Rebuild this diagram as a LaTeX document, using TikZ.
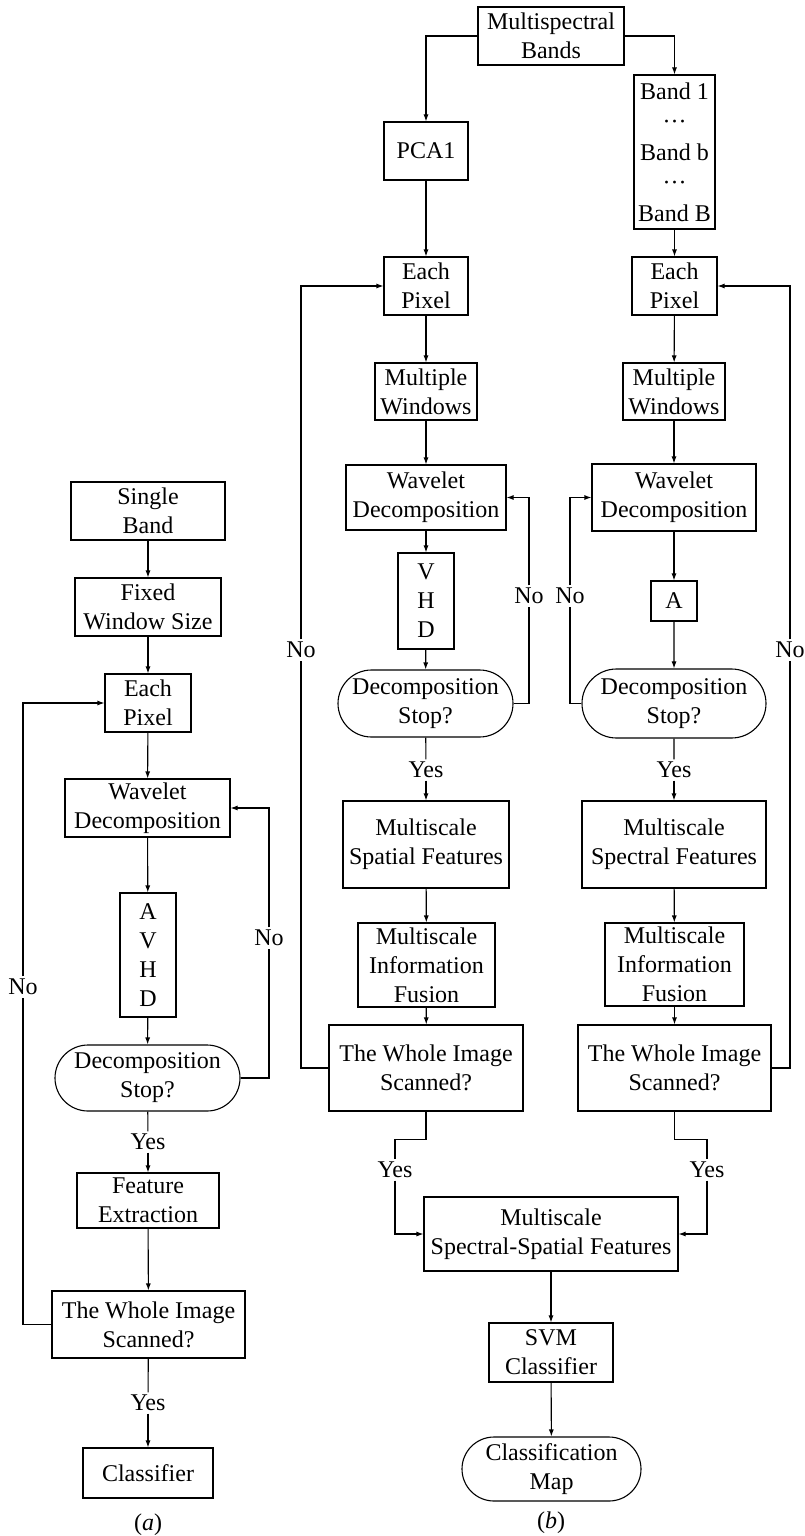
\documentclass[tikz,border=0pt]{standalone}
\usepackage{fontspec}
\setmainfont{Liberation Serif}
\usetikzlibrary{arrows.meta,shapes.misc}

\begin{document}
\begin{tikzpicture}[x=1pt, y=-1pt, >={Latex[length=7pt,width=5pt]}, line width=1.1pt,
  blk/.style={draw, rectangle, align=center, inner sep=0pt, font=\fontsize{24}{29}\selectfont},
  term/.style={blk, rounded rectangle},
  lbl/.style={inner sep=2pt, font=\fontsize{24}{29}\selectfont}]
\useasboundingbox (0,0) rectangle (805,1536);

% (a) single band
\node[blk, minimum width=154pt, minimum height=58pt] (single) at (148,511) {Single\\Band};
\node[blk, minimum width=146pt, minimum height=58pt] (fixed) at (148,607) {Fixed\\Window Size};
\node[blk, minimum width=86pt, minimum height=58pt] (eachA) at (148,703) {Each\\Pixel};
\node[blk, minimum width=165pt, minimum height=58pt] (waveA) at (147.5,808) {Wavelet\\Decomposition};
\node[blk, minimum width=56pt, minimum height=124pt] (avhd) at (148,955) {A\\V\\H\\D};
\node[term, minimum width=185pt, minimum height=66pt] (stopA) at (147.5,1078) {Decomposition\\Stop?};
\node[lbl] (yesA1) at (148,1142) {Yes};
\node[blk, minimum width=142pt, minimum height=55pt] (feat) at (148,1200.5) {Feature\\Extraction};
\node[blk, minimum width=193pt, minimum height=67pt] (wholeA) at (148.5,1324.5) {The Whole Image\\Scanned?};
\node[lbl] (yesA2) at (148,1403) {Yes};
\node[blk, minimum width=130pt, minimum height=50pt] (classA) at (148,1473) {Classifier};
\node[lbl] (capA) at (148,1525) {(\textit{a})};
\node[lbl] (noA1) at (23,987) {No};
\node[lbl] (noA2) at (269,938) {No};

\draw[->] (single) -- (fixed);
\draw[->] (fixed) -- (eachA);
\draw[->] (eachA) -- (waveA);
\draw[->] (waveA) -- (avhd);
\draw[->] (avhd) -- (stopA);
\draw (stopA) -- (yesA1);
\draw[->] (yesA1) -- (feat);
\draw[->] (feat) -- (wholeA);
\draw (wholeA) -- (yesA2);
\draw[->] (yesA2) -- (classA);
\draw (stopA.east) -| (noA2);
\draw[->] (noA2) |- (waveA.east);
\draw (wholeA.west) -| (noA1);
\draw[->] (noA1) |- (eachA.west);

% (b) multispectral bands
\node[blk, minimum width=146pt, minimum height=58pt] (msb) at (551,36) {Multispectral\\Bands};
\node[blk, minimum width=84pt, minimum height=58pt] (pca) at (426,151) {PCA1};
\node[blk, minimum width=81pt, minimum height=154pt, font=\fontsize{24}{30.5}\selectfont] (bands) at (674.5,152) {Band 1\\···\\Band b\\···\\Band B};
\node[blk, minimum width=84pt, minimum height=58pt] (eachL) at (426,286) {Each\\Pixel};
\node[blk, minimum width=85pt, minimum height=58pt] (eachR) at (674.5,286) {Each\\Pixel};
\node[blk, minimum width=102pt, minimum height=57pt] (mwL) at (426,391.5) {Multiple\\Windows};
\node[blk, minimum width=102pt, minimum height=57pt] (mwR) at (674,391.5) {Multiple\\Windows};
\node[blk, minimum width=160pt, minimum height=65pt] (waveL) at (426,497.5) {Wavelet\\Decomposition};
\node[blk, minimum width=164pt, minimum height=67pt] (waveR) at (674,497.5) {Wavelet\\Decomposition};
\node[blk, minimum width=56pt, minimum height=96pt] (vhd) at (426,601) {V\\H\\D};
\node[blk, minimum width=46pt, minimum height=40pt] (aR) at (674,601) {A};
\node[term, minimum width=175pt, minimum height=67pt] (stopL) at (425.5,703.5) {Decomposition\\Stop?};
\node[term, minimum width=184pt, minimum height=69pt] (stopR) at (674,703.5) {Decomposition\\Stop?};
\node[lbl] (yesL1) at (426,770) {Yes};
\node[lbl] (yesR1) at (674,770) {Yes};
\node[blk, minimum width=166pt, minimum height=87pt] (mssL) at (426,844.5) {Multiscale\\Spatial Features};
\node[blk, minimum width=184pt, minimum height=87pt] (mssR) at (674,844.5) {Multiscale\\Spectral Features};
\node[blk, minimum width=137pt, minimum height=84pt] (fuseL) at (426.5,965) {Multiscale\\Information\\Fusion};
\node[blk, minimum width=139pt, minimum height=83pt] (fuseR) at (674.5,964.5) {Multiscale\\Information\\Fusion};
\node[blk, minimum width=194pt, minimum height=86pt] (wholeL) at (426,1068) {The Whole Image\\Scanned?};
\node[blk, minimum width=193pt, minimum height=86pt] (wholeR) at (674.5,1068) {The Whole Image\\Scanned?};
\node[lbl] (yesL2) at (395,1170) {Yes};
\node[lbl] (yesR2) at (707,1170) {Yes};
\node[blk, minimum width=254pt, minimum height=74pt] (mssf) at (551,1234) {Multiscale\\Spectral-Spatial Features};
\node[blk, minimum width=124pt, minimum height=59pt] (svm) at (551,1352.5) {SVM\\Classifier};
\node[term, minimum width=179pt, minimum height=64pt] (cmap) at (551.5,1469) {Classification\\Map};
\node[lbl] (capB) at (551,1523) {(\textit{b})};
\node[lbl] (noB1) at (529,596) {No};
\node[lbl] (noB2) at (570,596) {No};
\node[lbl] (noB3) at (301,650) {No};
\node[lbl] (noB4) at (790,650) {No};

\draw[->] (msb.west) -| (pca);
\draw[->] (msb.east) -| (bands);
\draw[->] (pca) -- (eachL);
\draw[->] (bands) -- (eachR);
\draw[->] (eachL) -- (mwL);
\draw[->] (eachR) -- (mwR);
\draw[->] (mwL) -- (waveL);
\draw[->] (mwR) -- (waveR);
\draw[->] (waveL) -- (vhd);
\draw[->] (waveR) -- (aR);
\draw[->] (vhd) -- (stopL);
\draw[->] (aR) -- (stopR);
\draw (stopL.east) -| (noB1);
\draw[->] (noB1) |- (waveL.east);
\draw (stopR.west) -| (noB2);
\draw[->] (noB2) |- (waveR.west);
\draw (stopL) -- (yesL1);
\draw (stopR) -- (yesR1);
\draw[->] (yesL1) -- (mssL);
\draw[->] (yesR1) -- (mssR);
\draw[->] (mssL) -- (fuseL);
\draw[->] (mssR) -- (fuseR);
\draw[->] (fuseL) -- (wholeL);
\draw[->] (fuseR) -- (wholeR);
\draw (wholeL.west) -| (noB3);
\draw[->] (noB3) |- (eachL.west);
\draw (wholeR.east) -| (noB4);
\draw[->] (noB4) |- (eachR.east);
\draw (wholeL.south) -- ++(0,28) -| (yesL2);
\draw[->] (yesL2) |- (mssf.west);
\draw (wholeR.south) -- ++(0,28) -| (yesR2);
\draw[->] (yesR2) |- (mssf.east);
\draw[->] (mssf) -- (svm);
\draw[->] (svm) -- (cmap);
\end{tikzpicture}
\end{document}
